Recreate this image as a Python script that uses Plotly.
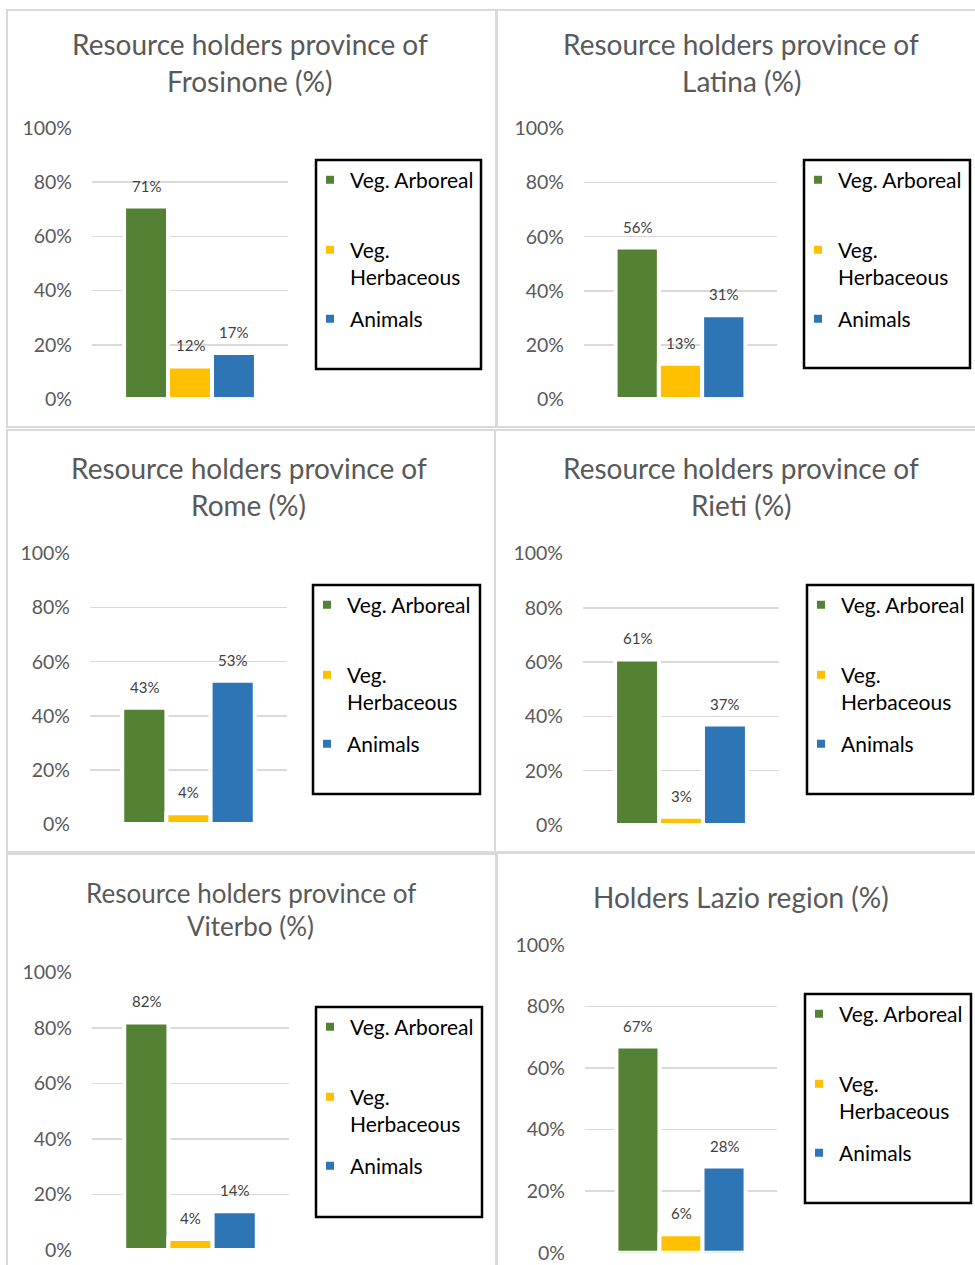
import plotly.graph_objects as go

# ---------------- data ----------------
categories = ["Veg. Arboreal", "Veg. Herbaceous", "Animals"]
legend_names = ["Veg. Arboreal", "Veg.<br>Herbaceous", "Animals"]
colors = ["#548235", "#FFC000", "#2E75B6"]

frosinone = [71, 12, 17]
latina = [56, 13, 31]
rome = [43, 4, 53]
rieti = [61, 3, 37]
viterbo = [82, 4, 14]
lazio = [67, 6, 28]

panel_values = [frosinone, latina, rome, rieti, viterbo, lazio]
panel_titles = [
    ["Resource holders province of", "Frosinone (%)"],
    ["Resource holders province of", "Latina (%)"],
    ["Resource holders province of", "Rome (%)"],
    ["Resource holders province of", "Rieti (%)"],
    ["Resource holders province of", "Viterbo (%)"],
    ["Holders Lazio region (%)"],
]
y_tick_values = [0, 20, 40, 60, 80, 100]
y_tick_labels = ["0%", "20%", "40%", "60%", "80%", "100%"]

# ---------------- layout geometry (screen pixels) ----------------
W, H = 975, 1265
FONT = "Lato"

def px(x):
    return x / W

def py(y):
    return 1 - y / H

panels = [
    dict(plot=(92, 288, 128, 399), box=(316, 481, 160, 369), border=(7, 496, 10, 427),
         tx=250, ty=[44, 81], tsize=28),
    dict(plot=(584, 777, 128.5, 399), box=(804, 970, 160, 368), border=(497, 985, 10, 427),
         tx=741, ty=[44, 81], tsize=28),
    dict(plot=(90, 287, 553.5, 824), box=(313, 480, 585, 794), border=(7, 495, 430, 852),
         tx=248.5, ty=[468, 505], tsize=28),
    dict(plot=(583, 779, 553.5, 825), box=(807, 973, 585, 794), border=(495, 985, 430, 852),
         tx=741, ty=[468, 505], tsize=28),
    dict(plot=(92, 289, 972.5, 1250), box=(316, 482, 1007, 1217), border=(7, 496, 854, 1275),
         tx=250.5, ty=[893, 926], tsize=26),
    dict(plot=(585, 777, 945, 1252.7), box=(805, 971, 994, 1203), border=(497, 985, 853, 1275),
         tx=741, ty=[897], tsize=28),
]

fig = go.Figure()
shapes = []
annotations = []
layout_extra = {}
legend_count = 0

for i, (vals, p) in enumerate(zip(panel_values, panels)):
    n = i + 1
    xa = "x" if n == 1 else f"x{n}"
    ya = "y" if n == 1 else f"y{n}"
    x0, x1, ytop, ybot = p["plot"]
    layout_extra[f"xaxis{'' if n == 1 else n}"] = dict(
        domain=[px(x0), px(x1)], anchor=ya, type="category",
        categoryorder="array", categoryarray=categories,
        range=[-1.23, 3.23], showticklabels=False, showgrid=False,
        zeroline=False, showline=False, ticks="", fixedrange=True,
    )
    layout_extra[f"yaxis{'' if n == 1 else n}"] = dict(
        domain=[py(ybot), py(ytop)], anchor=xa, range=[0, 100],
        tickvals=y_tick_values, ticktext=y_tick_labels,
        showgrid=True, gridcolor="#d9d9d9", gridwidth=1.5,
        zeroline=False, showline=False, ticks="", ticklabelstandoff=19,
        tickfont=dict(family=FONT, size=19.5, color="#595959"), fixedrange=True,
    )

    bx0, bx1, by0, by1 = p["box"]
    item_offsets = [20, 103.5, 159]
    for j, (cat, nm, col, v) in enumerate(zip(categories, legend_names, colors, vals)):
        legend_count += 1
        lkey = "legend" if legend_count == 1 else f"legend{legend_count}"
        fig.add_trace(go.Bar(
            x=[cat], y=[v], name=nm, xaxis=xa, yaxis=ya,
            marker=dict(color=col, line=dict(color="white", width=4)),
            legend=lkey, showlegend=True, hoverinfo="skip",
        ))
        layout_extra[lkey] = dict(
            x=px(bx0 - 6), xanchor="left", y=py(by0 + item_offsets[j]), yanchor="middle",
            bgcolor="rgba(0,0,0,0)", borderwidth=0, valign="top",
            font=dict(family=FONT, size=21, color="#000000"),
        )
        annotations.append(dict(
            x=cat, y=v, xref=xa, yref=ya, text=f"{v}%", showarrow=False,
            yanchor="bottom", yshift=10,
            font=dict(family=FONT, size=15, color="#404040"),
        ))

    # legend frame
    shapes.append(dict(type="rect", xref="paper", yref="paper",
                       x0=px(bx0), x1=px(bx1), y0=py(by1), y1=py(by0),
                       line=dict(color="#000000", width=2.5), fillcolor="rgba(0,0,0,0)"))
    # panel border
    cx0, cx1, cy0, cy1 = p["border"]
    shapes.append(dict(type="rect", xref="paper", yref="paper",
                       x0=px(cx0), x1=px(cx1), y0=py(cy1), y1=py(cy0),
                       line=dict(color="#d9d9d9", width=2), fillcolor="rgba(0,0,0,0)", layer="below"))
    # titles
    for line_text, ty in zip(panel_titles[i], p["ty"]):
        annotations.append(dict(
            x=px(p["tx"]), y=py(ty), xref="paper", yref="paper", text=line_text,
            showarrow=False, xanchor="center", yanchor="middle",
            font=dict(family=FONT, size=p["tsize"], color="#595959"),
        ))

fig.update_layout(
    width=W, height=H, margin=dict(l=0, r=0, t=0, b=0, autoexpand=False),
    paper_bgcolor="white", plot_bgcolor="white",
    barmode="overlay", bargap=0,
    shapes=shapes, annotations=annotations,
    font=dict(family=FONT),
    **layout_extra,
)

# remove the default page margin / scrollbars so the 975x1265 figure fills the window
fig.write_html(
    "out.html",
    config={"displayModeBar": False, "staticPlot": True},
    post_script="document.body.style.margin='0';document.body.style.overflow='hidden';",
)
